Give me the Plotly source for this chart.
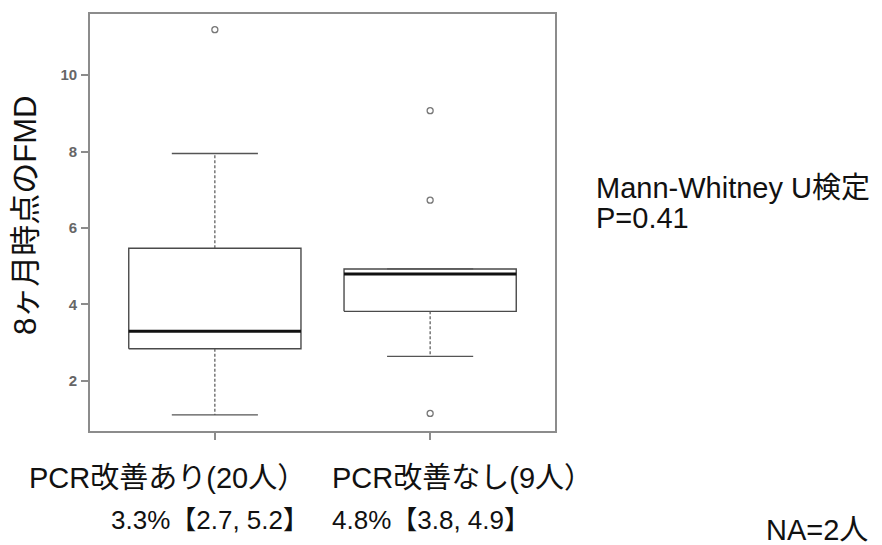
import plotly.graph_objects as go

# Group labels and box-plot statistics of FMD at 8 months (%)
groups = ["PCR改善あり(20人）", "PCR改善なし(9人）"]
positions = [1, 2]
q1 = [2.84, 3.82]
median = [3.3, 4.8]
q3 = [5.47, 4.93]
whisker_low = [1.11, 2.64]
whisker_high = [7.95, 4.93]
outliers = [[11.19], [9.07, 6.73, 1.15]]

# Reported median [IQR] for each group
iqr_low = [2.7, 3.8]
iqr_high = [5.2, 4.9]

y_ticks = [2, 4, 6, 8, 10]

BOX_HALF = 0.4
CAP_HALF = 0.2
LINE_COL = "#4a4a4a"
FRAME_COL = "#8c8c8c"
TEXT_FONT = "Liberation Sans, Noto Sans CJK JP, sans-serif"

fig = go.Figure()

for i, c in enumerate(positions):
    # box body
    fig.add_trace(go.Scatter(
        x=[c - BOX_HALF, c + BOX_HALF, c + BOX_HALF, c - BOX_HALF, c - BOX_HALF],
        y=[q1[i], q1[i], q3[i], q3[i], q1[i]],
        mode="lines", line=dict(color=LINE_COL, width=1.4),
        hoverinfo="skip", showlegend=False))
    # dashed whiskers
    fig.add_trace(go.Scatter(
        x=[c, c, None, c, c],
        y=[q3[i], whisker_high[i], None, q1[i], whisker_low[i]],
        mode="lines", line=dict(color="#555555", width=1.2, dash="3px,2px"),
        hoverinfo="skip", showlegend=False))
    # whisker caps
    fig.add_trace(go.Scatter(
        x=[c - CAP_HALF, c + CAP_HALF, None, c - CAP_HALF, c + CAP_HALF],
        y=[whisker_high[i], whisker_high[i], None, whisker_low[i], whisker_low[i]],
        mode="lines", line=dict(color="#555555", width=1.3),
        hoverinfo="skip", showlegend=False))
    # median
    fig.add_trace(go.Scatter(
        x=[c - BOX_HALF, c + BOX_HALF],
        y=[median[i], median[i]],
        mode="lines", line=dict(color="#111111", width=3),
        hoverinfo="skip", showlegend=False))
    # outliers
    fig.add_trace(go.Scatter(
        x=[c] * len(outliers[i]), y=outliers[i],
        mode="markers",
        marker=dict(symbol="circle-open", size=6, color="#777777",
                    line=dict(width=1.3, color="#777777")),
        hoverinfo="skip", showlegend=False))

W, H = 882, 545
L, R, T, B = 90, 555, 14, 431


def px(xp):
    return (xp - L) / (R - L)


def py(yp):
    return (B - yp) / (B - T)


annotations = []
big = dict(family=TEXT_FONT, size=29, color="#111111")
stat_font = dict(family=TEXT_FONT, size=26, color="#111111")

group_centers = [167, 462]
stat_centers = [210, 431]
for i in range(len(groups)):
    annotations.append(dict(
        text=groups[i], x=px(group_centers[i]), y=py(478),
        xref="paper", yref="paper", xanchor="center", yanchor="middle",
        showarrow=False, font=big))
    annotations.append(dict(
        text=f"{median[i]:.1f}%【{iqr_low[i]:.1f}, {iqr_high[i]:.1f}】",
        x=px(stat_centers[i]), y=py(520),
        xref="paper", yref="paper", xanchor="center", yanchor="middle",
        showarrow=False, font=stat_font))

annotations += [
    dict(text="8ヶ月時点のFMD", x=px(25), y=py(216), textangle=-90,
         xref="paper", yref="paper", xanchor="center", yanchor="middle",
         showarrow=False, font=dict(family=TEXT_FONT, size=31, color="#111111")),
    dict(text="Mann-Whitney U検定", x=px(594), y=py(188),
         xref="paper", yref="paper", xanchor="left", yanchor="middle",
         showarrow=False, font=big),
    dict(text="P=0.41", x=px(594), y=py(218),
         xref="paper", yref="paper", xanchor="left", yanchor="middle",
         showarrow=False, font=big),
    dict(text="NA=2人", x=px(817), y=py(530),
         xref="paper", yref="paper", xanchor="center", yanchor="middle",
         showarrow=False, font=big),
]

fig.update_layout(
    width=W, height=H,
    margin=dict(l=L, r=W - R, t=T, b=H - B, pad=0),
    paper_bgcolor="white", plot_bgcolor="white",
    annotations=annotations,
    xaxis=dict(range=[0.42, 2.58], tickvals=positions, ticktext=["", ""],
               showticklabels=False, ticks="outside", ticklen=7,
               tickcolor=FRAME_COL, tickwidth=1.5,
               showline=True, mirror=True, linecolor=FRAME_COL, linewidth=1.6,
               showgrid=False, zeroline=False, fixedrange=True),
    yaxis=dict(range=[0.69, 11.6], tickvals=y_ticks,
               ticks="outside", ticklen=7, tickcolor=FRAME_COL, tickwidth=1.5,
               ticklabelstandoff=1,
               tickfont=dict(family="Liberation Sans", size=15,
                             color="#666666", weight="bold"),
               showline=True, mirror=True, linecolor=FRAME_COL, linewidth=1.6,
               showgrid=False, zeroline=False, fixedrange=True),
)

fig.write_html("out.html")
